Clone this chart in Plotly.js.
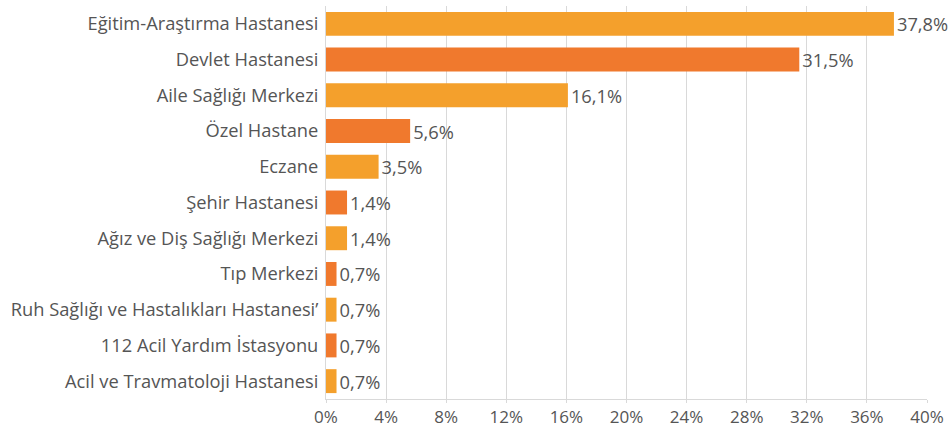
<!DOCTYPE html>
<html>
<head>
<meta charset="utf-8">
<script src="https://cdn.plot.ly/plotly-3.0.1.min.js"></script>
<style>html,body{margin:0;padding:0;background:#fff;}#chart{width:948px;height:429px;}</style>
</head>
<body>
<div id="chart"></div>
<script>
const categories = [
  "Eğitim-Araştırma Hastanesi",
  "Devlet Hastanesi",
  "Aile Sağlığı Merkezi",
  "Özel Hastane",
  "Eczane",
  "Şehir Hastanesi",
  "Ağız ve Diş Sağlığı Merkezi",
  "Tıp Merkezi",
  "Ruh Sağlığı ve Hastalıkları Hastanesi’",
  "112 Acil Yardım İstasyonu",
  "Acil ve Travmatoloji Hastanesi"
];
const values = [37.8, 31.5, 16.1, 5.6, 3.5, 1.4, 1.4, 0.7, 0.7, 0.7, 0.7];
const tickValues = [0, 4, 8, 12, 16, 20, 24, 28, 32, 36, 40];
const tickLabels = ["0%", "4%", "8%", "12%", "16%", "20%", "24%", "28%", "32%", "36%", "40%"];
const lightOrange = "#F4A02C";
const darkOrange = "#F0792D";
const barColors = categories.map((c, i) => i % 2 === 0 ? lightOrange : darkOrange);

const font = {family: "Open Sans, Noto Sans, sans-serif", size: 18.3, color: "#555555"};
const xTickFont = {family: "Open Sans, Noto Sans, sans-serif", size: 17, color: "#555555"};

const trace = {
  type: "bar",
  orientation: "h",
  y: categories,
  x: values,
  marker: {color: barColors},
  text: values.map(v => v.toFixed(1).replace(".", ",") + "%"),
  textposition: "outside",
  textfont: font,
  constraintext: "none",
  cliponaxis: false,
  hoverinfo: "none"
};

const layout = {
  width: 948,
  height: 429,
  margin: {l: 326, r: 21, t: 6, b: 30, pad: 0},
  paper_bgcolor: "#fff",
  plot_bgcolor: "#fff",
  font: font,
  bargap: 0.33,
  showlegend: false,
  xaxis: {
    range: [0, 40],
    tickvals: tickValues,
    ticktext: tickLabels,
    showgrid: true,
    gridcolor: "#D9D9D9",
    gridwidth: 1,
    zeroline: false,
    showline: true,
    linecolor: "#D9D9D9",
    ticks: "outside",
    ticklen: 3,
    tickcolor: "#D9D9D9",
    tickfont: xTickFont,
    fixedrange: true
  },
  yaxis: {
    autorange: "reversed",
    showline: true,
    linecolor: "#D9D9D9",
    showgrid: false,
    zeroline: false,
    ticks: "",
    ticklabelstandoff: 3,
    tickfont: font,
    fixedrange: true
  }
};

Plotly.newPlot("chart", [trace], layout, {displayModeBar: false, staticPlot: true});
</script>
</body>
</html>
